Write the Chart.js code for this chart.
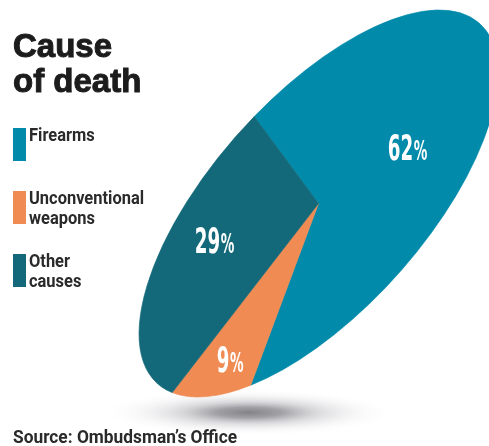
<!DOCTYPE html>
<html>
<head>
<meta charset="utf-8">
<script src="https://cdn.jsdelivr.net/npm/chart.js@4.4.1/dist/chart.umd.min.js"></script>
<style>
  html, body { margin: 0; padding: 0; background: #fff; width: 489px; height: 446px; overflow: hidden; }
  #chartBox { position: absolute; left: 0; top: 0; width: 489px; height: 446px; }
  #title { position: absolute; left: 13px; top: 28px; font: 700 33px 'Liberation Sans', Arial, sans-serif;
           line-height: 35px; color: #1c1c1c; -webkit-text-stroke: 1px #1c1c1c; z-index: 2; }
  #legend { position: absolute; left: 0; top: 0; z-index: 2; }
  .item { position: absolute; left: 13px; }
  .swatch { position: absolute; left: 0; top: 0; width: 13px; height: 33px; }
  .txt { position: absolute; left: 16px; top: -3.5px; font: 700 17.5px Roboto, 'Liberation Sans', sans-serif;
         line-height: 20px; color: #2a2a2a; white-space: nowrap; transform: scaleX(0.94); transform-origin: 0 0; }
  #source { position: absolute; left: 13px; top: 427px; font: 700 17.5px Roboto, 'Liberation Sans', sans-serif;
            line-height: 20px; color: #2a2a2a; white-space: nowrap; z-index: 2; transform: scaleX(0.99); transform-origin: 0 0; }
</style>
</head>
<body>
<div id="chartBox"><canvas id="c"></canvas></div>
<div id="title">Cause<br>of death</div>
<div id="legend"></div>
<div id="source">Source: Ombudsman’s Office</div>
<script>
// ---- data ----
const categories = [['Firearms'], ['Unconventional', 'weapons'], ['Other', 'causes']];
const shares = [62, 9, 29];
const colors = ['#018AAA', '#EF8B53', '#136979'];

// ---- legend (HTML, built from the arrays) ----
const legendTops = [128, 191, 254];
const legendEl = document.getElementById('legend');
categories.forEach((lines, i) => {
  const it = document.createElement('div');
  it.className = 'item';
  it.style.top = legendTops[i] + 'px';
  const sw = document.createElement('div');
  sw.className = 'swatch';
  sw.style.background = colors[i];
  const tx = document.createElement('div');
  tx.className = 'txt';
  tx.innerHTML = lines.join('<br>');
  it.appendChild(sw); it.appendChild(tx);
  legendEl.appendChild(it);
});

// ---- plugin: tilted elliptical pie + ground shadow + labels ----
function tiltMatrix(chart, opts) {
  const arc = chart.getDatasetMeta(0).data[0];
  const R = arc.outerRadius;
  const m = new DOMMatrix();
  m.translateSelf(arc.x, arc.y);
  m.rotateSelf(opts.angle);
  m.scaleSelf(opts.major / R, opts.minor / R);
  m.translateSelf(-arc.x, -arc.y);
  return m;
}
const tiltPlugin = {
  id: 'tilt',
  beforeDatasetsDraw(chart, args, opts) {
    const ctx = chart.ctx;
    const arc = chart.getDatasetMeta(0).data[0];
    const s = opts.shadow;
    ctx.save();
    ctx.translate(arc.x + s.dx, arc.y + s.dy);
    ctx.scale(1, s.ry / s.rx);
    const g = ctx.createRadialGradient(0, 0, 0, 0, 0, s.rx);
    g.addColorStop(0, 'rgba(130,130,135,1)');
    g.addColorStop(0.22, 'rgba(145,145,150,0.85)');
    g.addColorStop(0.45, 'rgba(180,180,185,0.5)');
    g.addColorStop(0.72, 'rgba(218,218,222,0.22)');
    g.addColorStop(1, 'rgba(255,255,255,0)');
    ctx.fillStyle = g;
    ctx.beginPath();
    ctx.arc(0, 0, s.rx, 0, Math.PI * 2);
    ctx.fill();
    ctx.restore();

    ctx.save();
    const m = tiltMatrix(chart, opts);
    ctx.transform(m.a, m.b, m.c, m.d, m.e, m.f);
  },
  afterDatasetsDraw(chart, args, opts) {
    const ctx = chart.ctx;
    ctx.restore();
    const m = tiltMatrix(chart, opts);
    const meta = chart.getDatasetMeta(0);
    meta.data.forEach((arc, i) => {
      const ang = arc.startAngle + opts.labelAngleFrac[i] * (arc.endAngle - arc.startAngle);
      const r = opts.labelRadius[i] * arc.outerRadius;
      const p = m.transformPoint(new DOMPoint(arc.x + r * Math.cos(ang), arc.y + r * Math.sin(ang)));
      const num = String(chart.data.datasets[0].data[i]);
      ctx.save();
      ctx.translate(p.x, p.y + 12.5);
      ctx.scale(opts.labelSqueeze, 1);
      ctx.fillStyle = '#ffffff';
      ctx.textBaseline = 'alphabetic';
      ctx.textAlign = 'left';
      const bigFont = "bold 35px 'DejaVu Sans Condensed', 'DejaVu Sans', sans-serif";
      const smallFont = "bold 26px 'DejaVu Sans Condensed', 'DejaVu Sans', sans-serif";
      ctx.font = bigFont;
      const wNum = ctx.measureText(num).width;
      ctx.font = smallFont;
      const wPct = ctx.measureText('%').width;
      const gap = 1;
      const x0 = -(wNum + gap + wPct) / 2;
      ctx.font = bigFont;
      ctx.fillText(num, x0, 0);
      ctx.font = smallFont;
      ctx.fillText('%', x0 + wNum + gap, 0);
      ctx.restore();
    });
  }
};

new Chart(document.getElementById('c'), {
  type: 'pie',
  data: {
    labels: categories,
    datasets: [{
      data: shares,
      backgroundColor: colors,
      borderColor: colors,
      borderWidth: 0.6,
      hoverOffset: 0,
      clip: false
    }]
  },
  options: {
    responsive: true,
    maintainAspectRatio: false,
    animation: false,
    events: [],
    rotation: 5.2,
    layout: { padding: { left: 148, right: 0, top: 0, bottom: 39 } },
    plugins: {
      legend: { display: false },
      tooltip: { enabled: false },
      tilt: {
        angle: -48.2,
        major: 241.6,
        minor: 106.3,
        labelRadius: [0.5, 0.81, 0.64],
        labelAngleFrac: [0.53, 0.47, 0.58],
        labelSqueeze: 0.58,
        shadow: { dx: -70, dy: 209, rx: 150, ry: 24 }
      }
    }
  },
  plugins: [tiltPlugin]
});
</script>
</body>
</html>
